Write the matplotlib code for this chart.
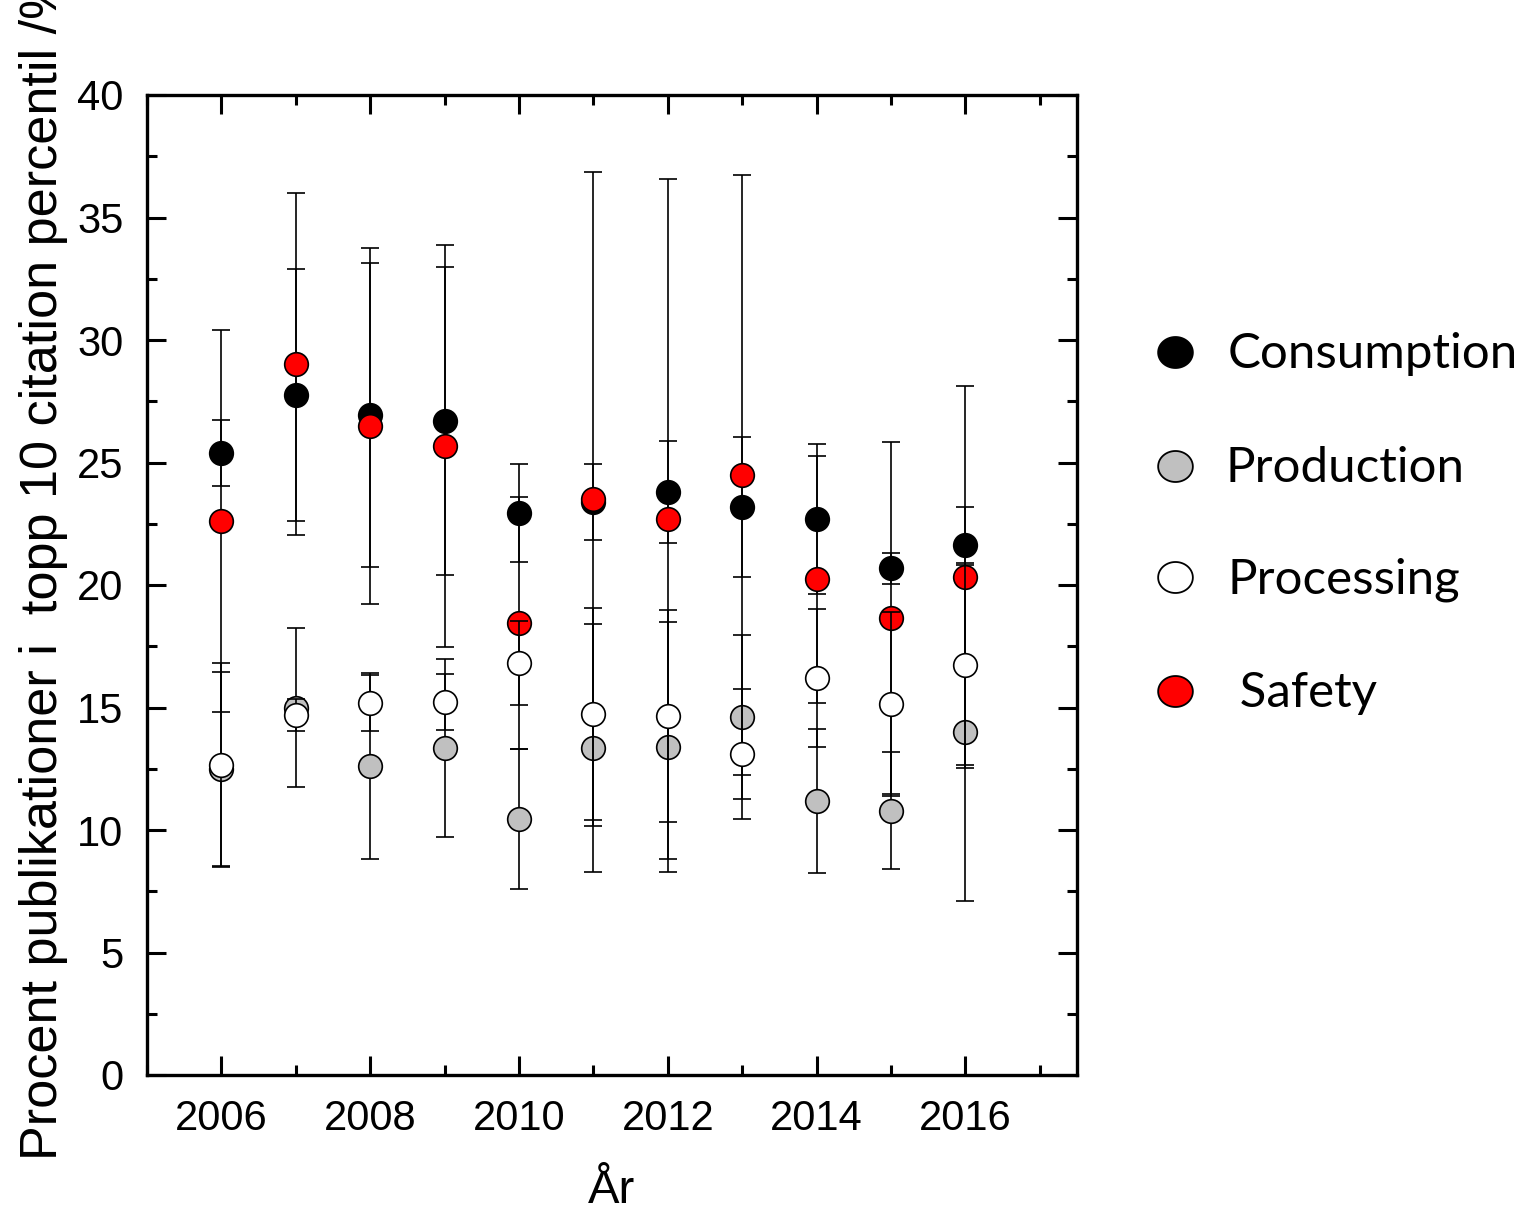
import numpy as np
import matplotlib
matplotlib.use("Agg")
import matplotlib.pyplot as plt
from matplotlib.ticker import MultipleLocator
from matplotlib.lines import Line2D
from matplotlib.path import Path

plt.rcParams['font.family'] = ['Liberation Sans', 'DejaVu Sans']

# Data
years = [2006, 2007, 2008, 2009, 2010, 2011, 2012, 2013, 2014, 2015, 2016]

consumption = [25.39, 27.76, 26.94, 26.69, 22.94, 23.40, 23.80, 23.18, 22.69, 20.69, 21.63]
consumption_err = [1.36, 5.15, 6.20, 6.28, 2.00, 1.55, 2.09, 2.86, 3.07, 0.63, 1.57]

production = [12.50, 15.00, 12.61, 13.35, 10.45, 13.35, 13.39, 14.61, 11.18, 10.78, 14.00]
production_err = [3.95, 3.24, 3.80, 3.65, 2.85, 5.07, 5.10, 3.34, 2.94, 2.39, 6.88]

processing = [12.65, 14.69, 15.18, 15.22, 16.82, 14.73, 14.65, 13.10, 16.20, 15.14, 16.73]
processing_err = [4.15, 0.64, 1.15, 1.15, 1.70, 4.33, 4.33, 2.66, 2.82, 3.77, 4.08]

safety = [22.61, 29.02, 26.49, 25.67, 18.45, 23.51, 22.69, 24.49, 20.24, 18.65, 20.33]
safety_err = [7.80, 6.97, 7.25, 8.22, 5.13, 13.36, 13.87, 12.24, 5.04, 7.20, 7.79]

labels = ["Consumption", "Production", "Processing", " Safety"]
colors = ["black", "#c0c0c0", "white", "#ff0000"]

fig = plt.figure(figsize=(15.24, 12.11), dpi=100)
ax = fig.add_axes([147 / 1524, 1 - 1075 / 1211, 930 / 1524, 980 / 1211])

# drawing order: consumption, production, safety, processing
series = [
    (consumption, consumption_err, colors[0]),
    (production, production_err, colors[1]),
    (safety, safety_err, colors[3]),
    (processing, processing_err, colors[2]),
]
z = 2
for vals, errs, col in series:
    ax.errorbar(years, vals, yerr=errs, fmt='none', ecolor='black',
                elinewidth=1.2, capsize=6.7, capthick=1.2, zorder=z)
    ax.plot(years, vals, 'o', ms=17, mfc=col, mec='black', mew=1.2,
            linestyle='none', zorder=z + 0.5)
    z += 1

ax.set_xlim(2005, 2017.5)
ax.set_ylim(0, 40)
ax.xaxis.set_major_locator(MultipleLocator(2))
ax.xaxis.set_minor_locator(MultipleLocator(1))
ax.yaxis.set_major_locator(MultipleLocator(5))
ax.yaxis.set_minor_locator(MultipleLocator(2.5))
ax.tick_params(which='both', direction='in', top=True, right=True, width=2.2)
ax.tick_params(which='major', length=13.5, labelsize=30, pad=17)
ax.tick_params(which='minor', length=7)
for sp in ax.spines.values():
    sp.set_linewidth(2.4)

ax.set_xlabel("År", fontsize=34, labelpad=22)
fig.text(44 / 1524, 1 - 1160 / 1211,
         "Procent publikationer i  topp 10 citation percentil /%",
         rotation=90, ha='center', va='bottom', fontsize=37.6)

# legend drawn by hand to match the spacing
t = np.linspace(0, 2 * np.pi, 60)
ellipse = Path(np.column_stack([1.12 * np.cos(t), np.sin(t)]), closed=True)
leg_y = [368, 482, 593, 707]
leg_x = [1228, 1226, 1227, 1227]
for lab, col, yb, xt in zip(labels, colors, leg_y, leg_x):
    fig.add_artist(Line2D([1175 / 1524], [1 - (yb - 16) / 1211],
                          transform=fig.transFigure, marker=ellipse, ms=25,
                          mfc=col, mec='black', mew=1.3, linestyle='none'))
    fig.text(xt / 1524, 1 - yb / 1211, lab, family=['Lato', 'DejaVu Sans'],
             fontsize=35.5, ha='left', va='baseline')

fig.savefig("out.png", dpi=100)
